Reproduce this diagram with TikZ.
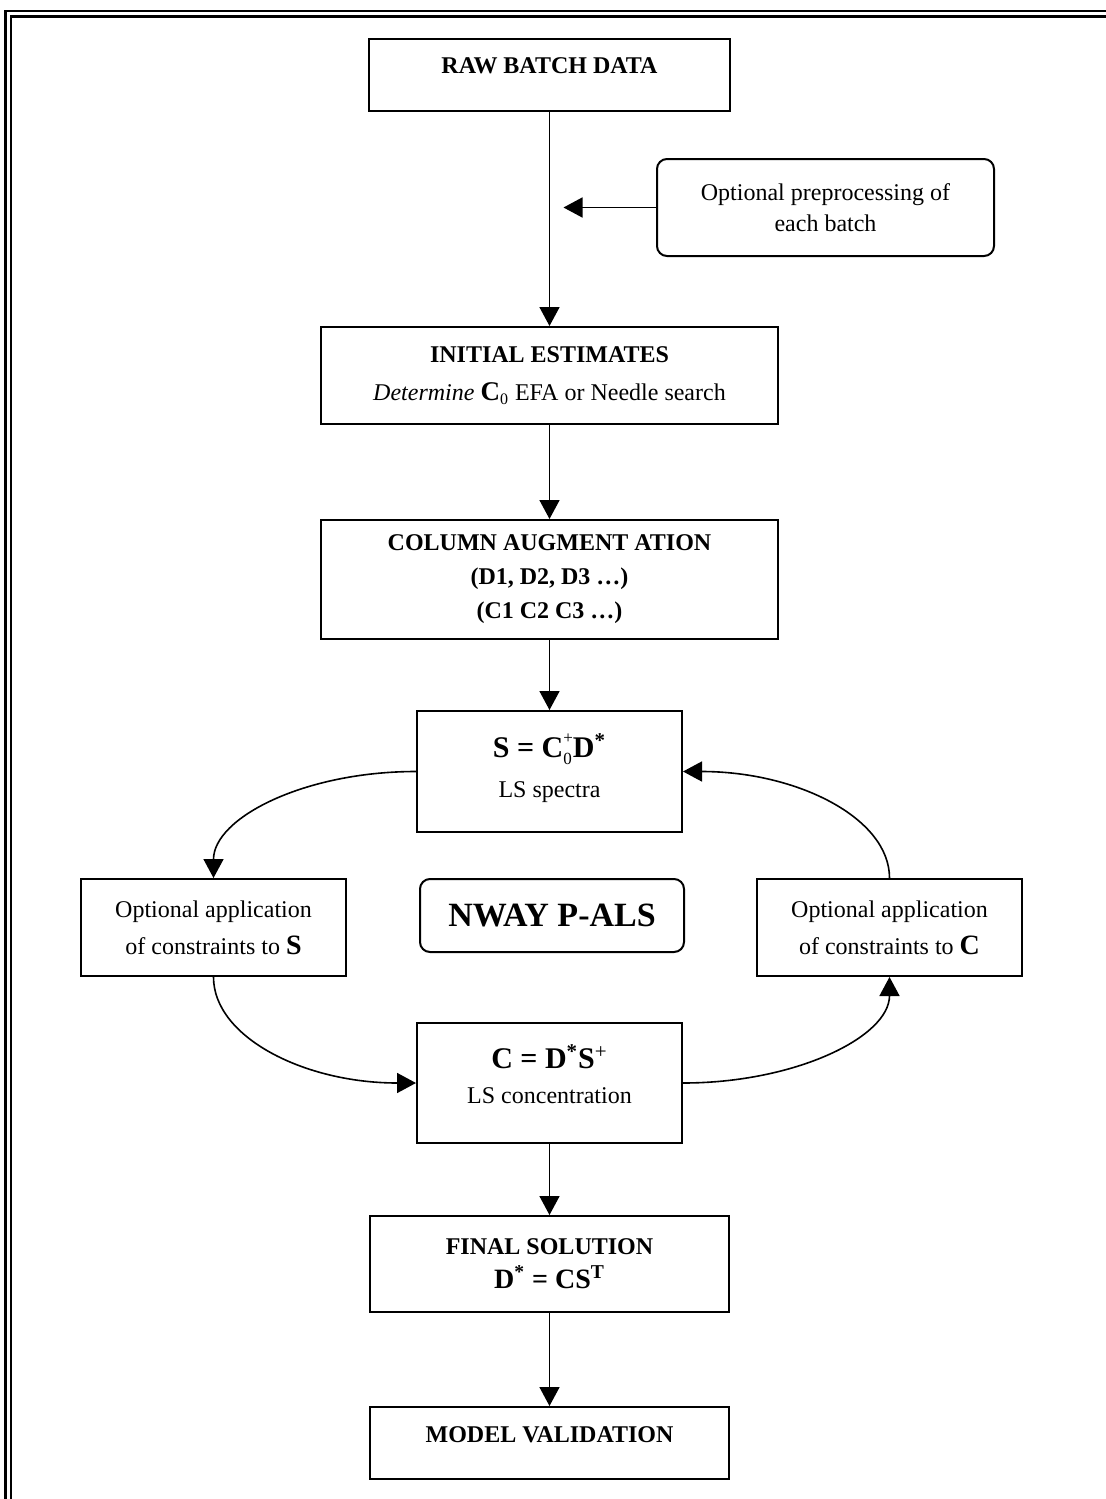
\documentclass[tikz,border=0pt]{standalone}
\usepackage{fontspec}
\setmainfont{Liberation Serif}
\usetikzlibrary{arrows.meta, positioning}

\tikzset{
  box/.style={draw, line width=1pt, align=center, inner sep=2pt,
    font=\fontsize{12}{15.5}\selectfont},
  rbox/.style={box, rounded corners=5pt},
  arr/.style={-{Triangle[length=9.5pt,width=10pt]}, line width=0.8pt},
}
\newcommand{\bigb}[2]{{\fontsize{#1}{#1}\selectfont\bfseries #2}}
\newcommand{\supsub}[2]{\rlap{\raisebox{-3.5pt}{\fontsize{8.5}{8.5}\selectfont\mdseries #2}}%
  \raisebox{7pt}{\fontsize{8.5}{8.5}\selectfont\mdseries #1}}

\begin{document}
\begin{tikzpicture}[x=0.5pt,y=-0.5pt]
\useasboundingbox (0,0) rectangle (1106,1499);
% double frame, only top and left inside the page
\draw[line width=1.2pt] (5.5,1499) |- (1106,11);
\draw[line width=1.4pt] (11,1499) |- (1106,16.5);

\node[box, minimum width=180.5pt, minimum height=36pt, text depth=9pt,
  font=\fontsize{12}{15}\selectfont\bfseries] (raw) at (549.5,75) {RAW BATCH DATA};
\node[rbox, minimum width=168.5pt, minimum height=48.5pt] (prep) at (825.5,207.5)
  {Optional preprocessing of\\each batch};
\node[box, minimum width=228.5pt, minimum height=48.5pt, font=\fontsize{12}{19}\selectfont] (init) at (549.5,375.5)
  {\textbf{INITIAL ESTIMATES}\\\textit{Determine} \bigb{13.5}{C}\textsubscript{0} EFA or Needle search};
\node[box, minimum width=228.5pt, minimum height=59.5pt, font=\fontsize{12}{17}\selectfont\bfseries] (aug) at (549.5,579.5)
  {COLUMN AUGMENT ATION\\(D1, D2, D3 …)\\(C1 C2 C3 …)};
\node[box, minimum width=132.5pt, minimum height=60.5pt, font=\fontsize{12}{20}\selectfont, text depth=6pt] (spec) at (549.5,771.5)
  {\bigb{15}{S = C\supsub{+}{0}D\textsuperscript{*}}\\LS spectra};
\node[box, minimum width=132.5pt, minimum height=48.5pt, font=\fontsize{12}{18.5}\selectfont] (lcon) at (213.5,927.5)
  {Optional application\\of constraints to \bigb{14}{S}};
\node[rbox, minimum width=132pt, minimum height=36.5pt] (nway) at (552,915.5)
  {\bigb{17}{NWAY P-ALS}};
\node[box, minimum width=132.5pt, minimum height=48.5pt, font=\fontsize{12}{18.5}\selectfont] (rcon) at (889.5,927.5)
  {Optional application\\of constraints to \bigb{14}{C}};
\node[box, minimum width=132.5pt, minimum height=60pt, font=\fontsize{12}{17.5}\selectfont, text depth=9pt] (conc) at (549.5,1083)
  {\bigb{15}{C = D\textsuperscript{*}S\textsuperscript{\mdseries+}}\\LS concentration};
\node[box, minimum width=179.5pt, minimum height=48pt, font=\fontsize{12}{17}\selectfont\bfseries] (final) at (549.5,1264)
  {FINAL SOLUTION\\\bigb{14}{D\textsuperscript{*} = CS\textsuperscript{T}}};
\node[box, minimum width=179.5pt, minimum height=36pt, text depth=8pt,
  font=\fontsize{12}{15}\selectfont\bfseries] (valid) at (549.5,1443) {MODEL VALIDATION};

\path[arr] (raw) edge (init)
           (init) edge (aug)
           (aug) edge (spec)
           (conc) edge (final)
           (final) edge (valid)
           (spec.west) edge[out=180,in=90,out distance=56pt,in distance=30pt] (lcon.north)
           (lcon.south) edge[out=-90,in=180,out distance=30pt,in distance=56pt] (conc.west)
           (conc.east) edge[out=0,in=-90,out distance=56pt,in distance=30pt] (rcon.south)
           (rcon.north) edge[out=90,in=0,out distance=30pt,in distance=57pt] (spec.east);
\draw[arr] (prep.west) -- ([xshift=7pt]prep.west -| raw.south);
\end{tikzpicture}
\end{document}
